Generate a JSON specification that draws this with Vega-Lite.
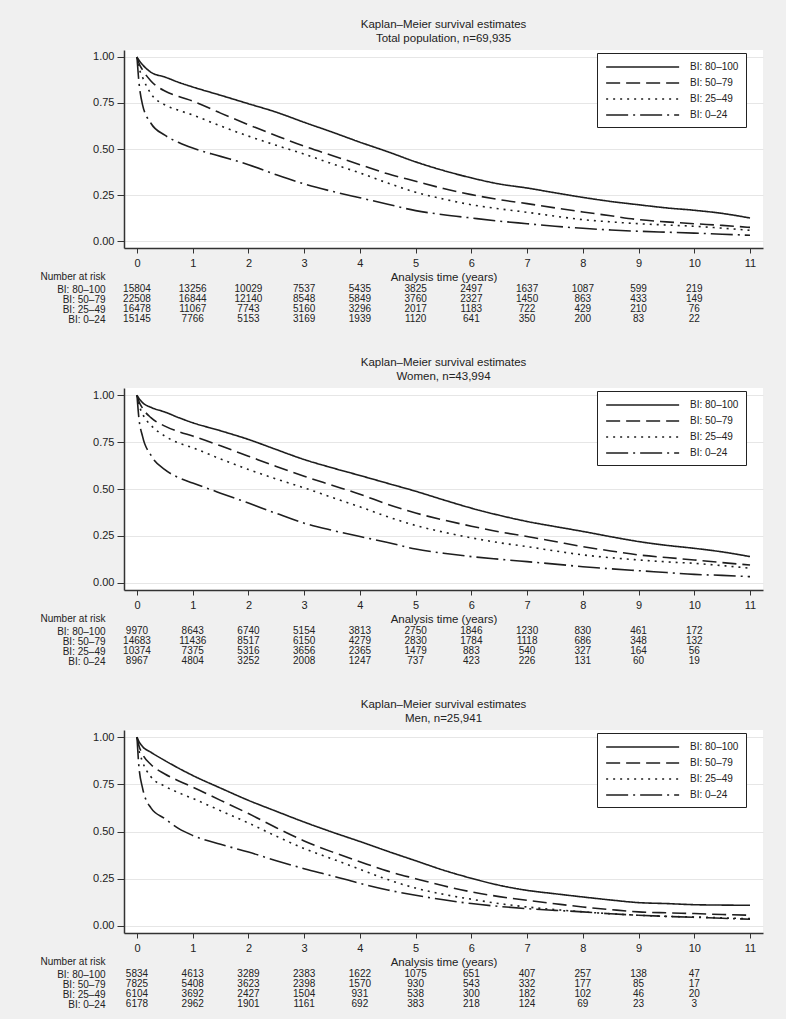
{
  "$schema": "https://vega.github.io/schema/vega-lite/v6.json",
  "autosize": {"type": "pad"},
  "padding": {"left": 40, "top": 18, "right": 23, "bottom": 10},
  "background": "#f0f0f0",
  "bounds": "flush",
  "spacing": 36,
  "datasets": {
    "km": [
      {"panel":"Total","group":"BI: 80–100","time":0,"surv":1},{"panel":"Total","group":"BI: 80–100","time":0.03,"surv":0.985},{"panel":"Total","group":"BI: 80–100","time":0.1,"surv":0.958},{"panel":"Total","group":"BI: 80–100","time":0.25,"surv":0.917},{"panel":"Total","group":"BI: 80–100","time":0.5,"surv":0.891},{"panel":"Total","group":"BI: 80–100","time":0.75,"surv":0.862},{"panel":"Total","group":"BI: 80–100","time":1,"surv":0.837},{"panel":"Total","group":"BI: 80–100","time":1.5,"surv":0.792},{"panel":"Total","group":"BI: 80–100","time":2,"surv":0.746},{"panel":"Total","group":"BI: 80–100","time":2.5,"surv":0.7},{"panel":"Total","group":"BI: 80–100","time":3,"surv":0.645},{"panel":"Total","group":"BI: 80–100","time":3.5,"surv":0.592},{"panel":"Total","group":"BI: 80–100","time":4,"surv":0.537},{"panel":"Total","group":"BI: 80–100","time":4.5,"surv":0.485},{"panel":"Total","group":"BI: 80–100","time":5,"surv":0.43},{"panel":"Total","group":"BI: 80–100","time":5.5,"surv":0.383},{"panel":"Total","group":"BI: 80–100","time":6,"surv":0.343},{"panel":"Total","group":"BI: 80–100","time":6.5,"surv":0.31},{"panel":"Total","group":"BI: 80–100","time":7,"surv":0.288},{"panel":"Total","group":"BI: 80–100","time":7.5,"surv":0.262},{"panel":"Total","group":"BI: 80–100","time":8,"surv":0.237},{"panel":"Total","group":"BI: 80–100","time":8.5,"surv":0.215},{"panel":"Total","group":"BI: 80–100","time":9,"surv":0.197},{"panel":"Total","group":"BI: 80–100","time":9.5,"surv":0.18},{"panel":"Total","group":"BI: 80–100","time":10,"surv":0.167},{"panel":"Total","group":"BI: 80–100","time":10.5,"surv":0.15},{"panel":"Total","group":"BI: 80–100","time":11,"surv":0.125},
      {"panel":"Total","group":"BI: 50–79","time":0,"surv":1},{"panel":"Total","group":"BI: 50–79","time":0.03,"surv":0.97},{"panel":"Total","group":"BI: 50–79","time":0.1,"surv":0.93},{"panel":"Total","group":"BI: 50–79","time":0.25,"surv":0.87},{"panel":"Total","group":"BI: 50–79","time":0.5,"surv":0.815},{"panel":"Total","group":"BI: 50–79","time":0.75,"surv":0.785},{"panel":"Total","group":"BI: 50–79","time":1,"surv":0.76},{"panel":"Total","group":"BI: 50–79","time":1.5,"surv":0.695},{"panel":"Total","group":"BI: 50–79","time":2,"surv":0.632},{"panel":"Total","group":"BI: 50–79","time":2.5,"surv":0.572},{"panel":"Total","group":"BI: 50–79","time":3,"surv":0.515},{"panel":"Total","group":"BI: 50–79","time":3.5,"surv":0.465},{"panel":"Total","group":"BI: 50–79","time":4,"surv":0.415},{"panel":"Total","group":"BI: 50–79","time":4.5,"surv":0.365},{"panel":"Total","group":"BI: 50–79","time":5,"surv":0.325},{"panel":"Total","group":"BI: 50–79","time":5.5,"surv":0.285},{"panel":"Total","group":"BI: 50–79","time":6,"surv":0.252},{"panel":"Total","group":"BI: 50–79","time":6.5,"surv":0.225},{"panel":"Total","group":"BI: 50–79","time":7,"surv":0.203},{"panel":"Total","group":"BI: 50–79","time":7.5,"surv":0.18},{"panel":"Total","group":"BI: 50–79","time":8,"surv":0.158},{"panel":"Total","group":"BI: 50–79","time":8.5,"surv":0.137},{"panel":"Total","group":"BI: 50–79","time":9,"surv":0.116},{"panel":"Total","group":"BI: 50–79","time":9.5,"surv":0.104},{"panel":"Total","group":"BI: 50–79","time":10,"surv":0.094},{"panel":"Total","group":"BI: 50–79","time":10.5,"surv":0.085},{"panel":"Total","group":"BI: 50–79","time":11,"surv":0.074},
      {"panel":"Total","group":"BI: 25–49","time":0,"surv":1},{"panel":"Total","group":"BI: 25–49","time":0.03,"surv":0.95},{"panel":"Total","group":"BI: 25–49","time":0.1,"surv":0.89},{"panel":"Total","group":"BI: 25–49","time":0.25,"surv":0.8},{"panel":"Total","group":"BI: 25–49","time":0.5,"surv":0.74},{"panel":"Total","group":"BI: 25–49","time":0.75,"surv":0.71},{"panel":"Total","group":"BI: 25–49","time":1,"surv":0.685},{"panel":"Total","group":"BI: 25–49","time":1.5,"surv":0.625},{"panel":"Total","group":"BI: 25–49","time":2,"surv":0.57},{"panel":"Total","group":"BI: 25–49","time":2.5,"surv":0.52},{"panel":"Total","group":"BI: 25–49","time":3,"surv":0.472},{"panel":"Total","group":"BI: 25–49","time":3.5,"surv":0.42},{"panel":"Total","group":"BI: 25–49","time":4,"surv":0.37},{"panel":"Total","group":"BI: 25–49","time":4.5,"surv":0.315},{"panel":"Total","group":"BI: 25–49","time":5,"surv":0.265},{"panel":"Total","group":"BI: 25–49","time":5.5,"surv":0.228},{"panel":"Total","group":"BI: 25–49","time":6,"surv":0.197},{"panel":"Total","group":"BI: 25–49","time":6.5,"surv":0.175},{"panel":"Total","group":"BI: 25–49","time":7,"surv":0.156},{"panel":"Total","group":"BI: 25–49","time":7.5,"surv":0.135},{"panel":"Total","group":"BI: 25–49","time":8,"surv":0.116},{"panel":"Total","group":"BI: 25–49","time":8.5,"surv":0.104},{"panel":"Total","group":"BI: 25–49","time":9,"surv":0.094},{"panel":"Total","group":"BI: 25–49","time":9.5,"surv":0.087},{"panel":"Total","group":"BI: 25–49","time":10,"surv":0.08},{"panel":"Total","group":"BI: 25–49","time":10.5,"surv":0.07},{"panel":"Total","group":"BI: 25–49","time":11,"surv":0.058},
      {"panel":"Total","group":"BI: 0–24","time":0,"surv":1},{"panel":"Total","group":"BI: 0–24","time":0.03,"surv":0.88},{"panel":"Total","group":"BI: 0–24","time":0.1,"surv":0.74},{"panel":"Total","group":"BI: 0–24","time":0.25,"surv":0.64},{"panel":"Total","group":"BI: 0–24","time":0.5,"surv":0.575},{"panel":"Total","group":"BI: 0–24","time":0.75,"surv":0.535},{"panel":"Total","group":"BI: 0–24","time":1,"surv":0.505},{"panel":"Total","group":"BI: 0–24","time":1.5,"surv":0.46},{"panel":"Total","group":"BI: 0–24","time":2,"surv":0.415},{"panel":"Total","group":"BI: 0–24","time":2.5,"surv":0.36},{"panel":"Total","group":"BI: 0–24","time":3,"surv":0.31},{"panel":"Total","group":"BI: 0–24","time":3.5,"surv":0.27},{"panel":"Total","group":"BI: 0–24","time":4,"surv":0.235},{"panel":"Total","group":"BI: 0–24","time":4.5,"surv":0.2},{"panel":"Total","group":"BI: 0–24","time":5,"surv":0.165},{"panel":"Total","group":"BI: 0–24","time":5.5,"surv":0.143},{"panel":"Total","group":"BI: 0–24","time":6,"surv":0.125},{"panel":"Total","group":"BI: 0–24","time":6.5,"surv":0.108},{"panel":"Total","group":"BI: 0–24","time":7,"surv":0.094},{"panel":"Total","group":"BI: 0–24","time":7.5,"surv":0.08},{"panel":"Total","group":"BI: 0–24","time":8,"surv":0.069},{"panel":"Total","group":"BI: 0–24","time":8.5,"surv":0.06},{"panel":"Total","group":"BI: 0–24","time":9,"surv":0.053},{"panel":"Total","group":"BI: 0–24","time":9.5,"surv":0.048},{"panel":"Total","group":"BI: 0–24","time":10,"surv":0.043},{"panel":"Total","group":"BI: 0–24","time":10.5,"surv":0.037},{"panel":"Total","group":"BI: 0–24","time":11,"surv":0.031},
      {"panel":"Women","group":"BI: 80–100","time":0,"surv":1},{"panel":"Women","group":"BI: 80–100","time":0.03,"surv":0.985},{"panel":"Women","group":"BI: 80–100","time":0.1,"surv":0.96},{"panel":"Women","group":"BI: 80–100","time":0.25,"surv":0.935},{"panel":"Women","group":"BI: 80–100","time":0.5,"surv":0.91},{"panel":"Women","group":"BI: 80–100","time":0.75,"surv":0.88},{"panel":"Women","group":"BI: 80–100","time":1,"surv":0.853},{"panel":"Women","group":"BI: 80–100","time":1.5,"surv":0.81},{"panel":"Women","group":"BI: 80–100","time":2,"surv":0.764},{"panel":"Women","group":"BI: 80–100","time":2.5,"surv":0.71},{"panel":"Women","group":"BI: 80–100","time":3,"surv":0.657},{"panel":"Women","group":"BI: 80–100","time":3.5,"surv":0.613},{"panel":"Women","group":"BI: 80–100","time":4,"surv":0.572},{"panel":"Women","group":"BI: 80–100","time":4.5,"surv":0.53},{"panel":"Women","group":"BI: 80–100","time":5,"surv":0.488},{"panel":"Women","group":"BI: 80–100","time":5.5,"surv":0.442},{"panel":"Women","group":"BI: 80–100","time":6,"surv":0.398},{"panel":"Women","group":"BI: 80–100","time":6.5,"surv":0.36},{"panel":"Women","group":"BI: 80–100","time":7,"surv":0.327},{"panel":"Women","group":"BI: 80–100","time":7.5,"surv":0.3},{"panel":"Women","group":"BI: 80–100","time":8,"surv":0.274},{"panel":"Women","group":"BI: 80–100","time":8.5,"surv":0.246},{"panel":"Women","group":"BI: 80–100","time":9,"surv":0.22},{"panel":"Women","group":"BI: 80–100","time":9.5,"surv":0.2},{"panel":"Women","group":"BI: 80–100","time":10,"surv":0.184},{"panel":"Women","group":"BI: 80–100","time":10.5,"surv":0.165},{"panel":"Women","group":"BI: 80–100","time":11,"surv":0.14},
      {"panel":"Women","group":"BI: 50–79","time":0,"surv":1},{"panel":"Women","group":"BI: 50–79","time":0.03,"surv":0.97},{"panel":"Women","group":"BI: 50–79","time":0.1,"surv":0.93},{"panel":"Women","group":"BI: 50–79","time":0.25,"surv":0.88},{"panel":"Women","group":"BI: 50–79","time":0.5,"surv":0.835},{"panel":"Women","group":"BI: 50–79","time":0.75,"surv":0.805},{"panel":"Women","group":"BI: 50–79","time":1,"surv":0.782},{"panel":"Women","group":"BI: 50–79","time":1.5,"surv":0.73},{"panel":"Women","group":"BI: 50–79","time":2,"surv":0.675},{"panel":"Women","group":"BI: 50–79","time":2.5,"surv":0.62},{"panel":"Women","group":"BI: 50–79","time":3,"surv":0.568},{"panel":"Women","group":"BI: 50–79","time":3.5,"surv":0.52},{"panel":"Women","group":"BI: 50–79","time":4,"surv":0.472},{"panel":"Women","group":"BI: 50–79","time":4.5,"surv":0.418},{"panel":"Women","group":"BI: 50–79","time":5,"surv":0.372},{"panel":"Women","group":"BI: 50–79","time":5.5,"surv":0.335},{"panel":"Women","group":"BI: 50–79","time":6,"surv":0.302},{"panel":"Women","group":"BI: 50–79","time":6.5,"surv":0.272},{"panel":"Women","group":"BI: 50–79","time":7,"surv":0.247},{"panel":"Women","group":"BI: 50–79","time":7.5,"surv":0.22},{"panel":"Women","group":"BI: 50–79","time":8,"surv":0.193},{"panel":"Women","group":"BI: 50–79","time":8.5,"surv":0.17},{"panel":"Women","group":"BI: 50–79","time":9,"surv":0.149},{"panel":"Women","group":"BI: 50–79","time":9.5,"surv":0.135},{"panel":"Women","group":"BI: 50–79","time":10,"surv":0.122},{"panel":"Women","group":"BI: 50–79","time":10.5,"surv":0.108},{"panel":"Women","group":"BI: 50–79","time":11,"surv":0.095},
      {"panel":"Women","group":"BI: 25–49","time":0,"surv":1},{"panel":"Women","group":"BI: 25–49","time":0.03,"surv":0.955},{"panel":"Women","group":"BI: 25–49","time":0.1,"surv":0.9},{"panel":"Women","group":"BI: 25–49","time":0.25,"surv":0.84},{"panel":"Women","group":"BI: 25–49","time":0.5,"surv":0.782},{"panel":"Women","group":"BI: 25–49","time":0.75,"surv":0.745},{"panel":"Women","group":"BI: 25–49","time":1,"surv":0.72},{"panel":"Women","group":"BI: 25–49","time":1.5,"surv":0.66},{"panel":"Women","group":"BI: 25–49","time":2,"surv":0.604},{"panel":"Women","group":"BI: 25–49","time":2.5,"surv":0.553},{"panel":"Women","group":"BI: 25–49","time":3,"surv":0.506},{"panel":"Women","group":"BI: 25–49","time":3.5,"surv":0.455},{"panel":"Women","group":"BI: 25–49","time":4,"surv":0.405},{"panel":"Women","group":"BI: 25–49","time":4.5,"surv":0.352},{"panel":"Women","group":"BI: 25–49","time":5,"surv":0.306},{"panel":"Women","group":"BI: 25–49","time":5.5,"surv":0.27},{"panel":"Women","group":"BI: 25–49","time":6,"surv":0.24},{"panel":"Women","group":"BI: 25–49","time":6.5,"surv":0.214},{"panel":"Women","group":"BI: 25–49","time":7,"surv":0.193},{"panel":"Women","group":"BI: 25–49","time":7.5,"surv":0.17},{"panel":"Women","group":"BI: 25–49","time":8,"surv":0.149},{"panel":"Women","group":"BI: 25–49","time":8.5,"surv":0.134},{"panel":"Women","group":"BI: 25–49","time":9,"surv":0.122},{"panel":"Women","group":"BI: 25–49","time":9.5,"surv":0.112},{"panel":"Women","group":"BI: 25–49","time":10,"surv":0.104},{"panel":"Women","group":"BI: 25–49","time":10.5,"surv":0.092},{"panel":"Women","group":"BI: 25–49","time":11,"surv":0.078},
      {"panel":"Women","group":"BI: 0–24","time":0,"surv":1},{"panel":"Women","group":"BI: 0–24","time":0.03,"surv":0.89},{"panel":"Women","group":"BI: 0–24","time":0.1,"surv":0.78},{"panel":"Women","group":"BI: 0–24","time":0.25,"surv":0.68},{"panel":"Women","group":"BI: 0–24","time":0.5,"surv":0.603},{"panel":"Women","group":"BI: 0–24","time":0.75,"surv":0.56},{"panel":"Women","group":"BI: 0–24","time":1,"surv":0.532},{"panel":"Women","group":"BI: 0–24","time":1.5,"surv":0.478},{"panel":"Women","group":"BI: 0–24","time":2,"surv":0.425},{"panel":"Women","group":"BI: 0–24","time":2.5,"surv":0.37},{"panel":"Women","group":"BI: 0–24","time":3,"surv":0.318},{"panel":"Women","group":"BI: 0–24","time":3.5,"surv":0.28},{"panel":"Women","group":"BI: 0–24","time":4,"surv":0.247},{"panel":"Women","group":"BI: 0–24","time":4.5,"surv":0.215},{"panel":"Women","group":"BI: 0–24","time":5,"surv":0.18},{"panel":"Women","group":"BI: 0–24","time":5.5,"surv":0.158},{"panel":"Women","group":"BI: 0–24","time":6,"surv":0.14},{"panel":"Women","group":"BI: 0–24","time":6.5,"surv":0.126},{"panel":"Women","group":"BI: 0–24","time":7,"surv":0.113},{"panel":"Women","group":"BI: 0–24","time":7.5,"surv":0.1},{"panel":"Women","group":"BI: 0–24","time":8,"surv":0.086},{"panel":"Women","group":"BI: 0–24","time":8.5,"surv":0.075},{"panel":"Women","group":"BI: 0–24","time":9,"surv":0.065},{"panel":"Women","group":"BI: 0–24","time":9.5,"surv":0.055},{"panel":"Women","group":"BI: 0–24","time":10,"surv":0.045},{"panel":"Women","group":"BI: 0–24","time":10.5,"surv":0.04},{"panel":"Women","group":"BI: 0–24","time":11,"surv":0.033},
      {"panel":"Men","group":"BI: 80–100","time":0,"surv":1},{"panel":"Men","group":"BI: 80–100","time":0.03,"surv":0.98},{"panel":"Men","group":"BI: 80–100","time":0.1,"surv":0.95},{"panel":"Men","group":"BI: 80–100","time":0.25,"surv":0.92},{"panel":"Men","group":"BI: 80–100","time":0.5,"surv":0.876},{"panel":"Men","group":"BI: 80–100","time":0.75,"surv":0.835},{"panel":"Men","group":"BI: 80–100","time":1,"surv":0.797},{"panel":"Men","group":"BI: 80–100","time":1.5,"surv":0.73},{"panel":"Men","group":"BI: 80–100","time":2,"surv":0.665},{"panel":"Men","group":"BI: 80–100","time":2.5,"surv":0.607},{"panel":"Men","group":"BI: 80–100","time":3,"surv":0.55},{"panel":"Men","group":"BI: 80–100","time":3.5,"surv":0.497},{"panel":"Men","group":"BI: 80–100","time":4,"surv":0.447},{"panel":"Men","group":"BI: 80–100","time":4.5,"surv":0.395},{"panel":"Men","group":"BI: 80–100","time":5,"surv":0.345},{"panel":"Men","group":"BI: 80–100","time":5.5,"surv":0.295},{"panel":"Men","group":"BI: 80–100","time":6,"surv":0.252},{"panel":"Men","group":"BI: 80–100","time":6.5,"surv":0.215},{"panel":"Men","group":"BI: 80–100","time":7,"surv":0.188},{"panel":"Men","group":"BI: 80–100","time":7.5,"surv":0.17},{"panel":"Men","group":"BI: 80–100","time":8,"surv":0.153},{"panel":"Men","group":"BI: 80–100","time":8.5,"surv":0.137},{"panel":"Men","group":"BI: 80–100","time":9,"surv":0.123},{"panel":"Men","group":"BI: 80–100","time":9.5,"surv":0.118},{"panel":"Men","group":"BI: 80–100","time":10,"surv":0.112},{"panel":"Men","group":"BI: 80–100","time":10.5,"surv":0.11},{"panel":"Men","group":"BI: 80–100","time":11,"surv":0.109},
      {"panel":"Men","group":"BI: 50–79","time":0,"surv":1},{"panel":"Men","group":"BI: 50–79","time":0.03,"surv":0.96},{"panel":"Men","group":"BI: 50–79","time":0.1,"surv":0.91},{"panel":"Men","group":"BI: 50–79","time":0.25,"surv":0.855},{"panel":"Men","group":"BI: 50–79","time":0.5,"surv":0.805},{"panel":"Men","group":"BI: 50–79","time":0.75,"surv":0.768},{"panel":"Men","group":"BI: 50–79","time":1,"surv":0.735},{"panel":"Men","group":"BI: 50–79","time":1.5,"surv":0.665},{"panel":"Men","group":"BI: 50–79","time":2,"surv":0.595},{"panel":"Men","group":"BI: 50–79","time":2.5,"surv":0.52},{"panel":"Men","group":"BI: 50–79","time":3,"surv":0.45},{"panel":"Men","group":"BI: 50–79","time":3.5,"surv":0.392},{"panel":"Men","group":"BI: 50–79","time":4,"surv":0.34},{"panel":"Men","group":"BI: 50–79","time":4.5,"surv":0.29},{"panel":"Men","group":"BI: 50–79","time":5,"surv":0.25},{"panel":"Men","group":"BI: 50–79","time":5.5,"surv":0.212},{"panel":"Men","group":"BI: 50–79","time":6,"surv":0.18},{"panel":"Men","group":"BI: 50–79","time":6.5,"surv":0.155},{"panel":"Men","group":"BI: 50–79","time":7,"surv":0.135},{"panel":"Men","group":"BI: 50–79","time":7.5,"surv":0.117},{"panel":"Men","group":"BI: 50–79","time":8,"surv":0.1},{"panel":"Men","group":"BI: 50–79","time":8.5,"surv":0.086},{"panel":"Men","group":"BI: 50–79","time":9,"surv":0.074},{"panel":"Men","group":"BI: 50–79","time":9.5,"surv":0.069},{"panel":"Men","group":"BI: 50–79","time":10,"surv":0.065},{"panel":"Men","group":"BI: 50–79","time":10.5,"surv":0.06},{"panel":"Men","group":"BI: 50–79","time":11,"surv":0.056},
      {"panel":"Men","group":"BI: 25–49","time":0,"surv":1},{"panel":"Men","group":"BI: 25–49","time":0.03,"surv":0.94},{"panel":"Men","group":"BI: 25–49","time":0.1,"surv":0.87},{"panel":"Men","group":"BI: 25–49","time":0.25,"surv":0.79},{"panel":"Men","group":"BI: 25–49","time":0.5,"surv":0.74},{"panel":"Men","group":"BI: 25–49","time":0.75,"surv":0.705},{"panel":"Men","group":"BI: 25–49","time":1,"surv":0.675},{"panel":"Men","group":"BI: 25–49","time":1.5,"surv":0.61},{"panel":"Men","group":"BI: 25–49","time":2,"surv":0.545},{"panel":"Men","group":"BI: 25–49","time":2.5,"surv":0.475},{"panel":"Men","group":"BI: 25–49","time":3,"surv":0.41},{"panel":"Men","group":"BI: 25–49","time":3.5,"surv":0.355},{"panel":"Men","group":"BI: 25–49","time":4,"surv":0.3},{"panel":"Men","group":"BI: 25–49","time":4.5,"surv":0.245},{"panel":"Men","group":"BI: 25–49","time":5,"surv":0.2},{"panel":"Men","group":"BI: 25–49","time":5.5,"surv":0.167},{"panel":"Men","group":"BI: 25–49","time":6,"surv":0.141},{"panel":"Men","group":"BI: 25–49","time":6.5,"surv":0.118},{"panel":"Men","group":"BI: 25–49","time":7,"surv":0.1},{"panel":"Men","group":"BI: 25–49","time":7.5,"surv":0.086},{"panel":"Men","group":"BI: 25–49","time":8,"surv":0.074},{"panel":"Men","group":"BI: 25–49","time":8.5,"surv":0.064},{"panel":"Men","group":"BI: 25–49","time":9,"surv":0.056},{"panel":"Men","group":"BI: 25–49","time":9.5,"surv":0.05},{"panel":"Men","group":"BI: 25–49","time":10,"surv":0.047},{"panel":"Men","group":"BI: 25–49","time":10.5,"surv":0.042},{"panel":"Men","group":"BI: 25–49","time":11,"surv":0.038},
      {"panel":"Men","group":"BI: 0–24","time":0,"surv":1},{"panel":"Men","group":"BI: 0–24","time":0.03,"surv":0.86},{"panel":"Men","group":"BI: 0–24","time":0.1,"surv":0.73},{"panel":"Men","group":"BI: 0–24","time":0.25,"surv":0.625},{"panel":"Men","group":"BI: 0–24","time":0.5,"surv":0.568},{"panel":"Men","group":"BI: 0–24","time":0.75,"surv":0.515},{"panel":"Men","group":"BI: 0–24","time":1,"surv":0.479},{"panel":"Men","group":"BI: 0–24","time":1.5,"surv":0.432},{"panel":"Men","group":"BI: 0–24","time":2,"surv":0.391},{"panel":"Men","group":"BI: 0–24","time":2.5,"surv":0.345},{"panel":"Men","group":"BI: 0–24","time":3,"surv":0.303},{"panel":"Men","group":"BI: 0–24","time":3.5,"surv":0.265},{"panel":"Men","group":"BI: 0–24","time":4,"surv":0.225},{"panel":"Men","group":"BI: 0–24","time":4.5,"surv":0.19},{"panel":"Men","group":"BI: 0–24","time":5,"surv":0.162},{"panel":"Men","group":"BI: 0–24","time":5.5,"surv":0.138},{"panel":"Men","group":"BI: 0–24","time":6,"surv":0.118},{"panel":"Men","group":"BI: 0–24","time":6.5,"surv":0.103},{"panel":"Men","group":"BI: 0–24","time":7,"surv":0.091},{"panel":"Men","group":"BI: 0–24","time":7.5,"surv":0.082},{"panel":"Men","group":"BI: 0–24","time":8,"surv":0.074},{"panel":"Men","group":"BI: 0–24","time":8.5,"surv":0.064},{"panel":"Men","group":"BI: 0–24","time":9,"surv":0.056},{"panel":"Men","group":"BI: 0–24","time":9.5,"surv":0.05},{"panel":"Men","group":"BI: 0–24","time":10,"surv":0.045},{"panel":"Men","group":"BI: 0–24","time":10.5,"surv":0.04},{"panel":"Men","group":"BI: 0–24","time":11,"surv":0.035}
    ],
    "risk": [
      {"panel":"Total","group":"BI: 80–100","time":0,"n":15804},{"panel":"Total","group":"BI: 80–100","time":1,"n":13256},{"panel":"Total","group":"BI: 80–100","time":2,"n":10029},{"panel":"Total","group":"BI: 80–100","time":3,"n":7537},{"panel":"Total","group":"BI: 80–100","time":4,"n":5435},{"panel":"Total","group":"BI: 80–100","time":5,"n":3825},{"panel":"Total","group":"BI: 80–100","time":6,"n":2497},{"panel":"Total","group":"BI: 80–100","time":7,"n":1637},{"panel":"Total","group":"BI: 80–100","time":8,"n":1087},{"panel":"Total","group":"BI: 80–100","time":9,"n":599},{"panel":"Total","group":"BI: 80–100","time":10,"n":219},
      {"panel":"Total","group":"BI: 50–79","time":0,"n":22508},{"panel":"Total","group":"BI: 50–79","time":1,"n":16844},{"panel":"Total","group":"BI: 50–79","time":2,"n":12140},{"panel":"Total","group":"BI: 50–79","time":3,"n":8548},{"panel":"Total","group":"BI: 50–79","time":4,"n":5849},{"panel":"Total","group":"BI: 50–79","time":5,"n":3760},{"panel":"Total","group":"BI: 50–79","time":6,"n":2327},{"panel":"Total","group":"BI: 50–79","time":7,"n":1450},{"panel":"Total","group":"BI: 50–79","time":8,"n":863},{"panel":"Total","group":"BI: 50–79","time":9,"n":433},{"panel":"Total","group":"BI: 50–79","time":10,"n":149},
      {"panel":"Total","group":"BI: 25–49","time":0,"n":16478},{"panel":"Total","group":"BI: 25–49","time":1,"n":11067},{"panel":"Total","group":"BI: 25–49","time":2,"n":7743},{"panel":"Total","group":"BI: 25–49","time":3,"n":5160},{"panel":"Total","group":"BI: 25–49","time":4,"n":3296},{"panel":"Total","group":"BI: 25–49","time":5,"n":2017},{"panel":"Total","group":"BI: 25–49","time":6,"n":1183},{"panel":"Total","group":"BI: 25–49","time":7,"n":722},{"panel":"Total","group":"BI: 25–49","time":8,"n":429},{"panel":"Total","group":"BI: 25–49","time":9,"n":210},{"panel":"Total","group":"BI: 25–49","time":10,"n":76},
      {"panel":"Total","group":"BI: 0–24","time":0,"n":15145},{"panel":"Total","group":"BI: 0–24","time":1,"n":7766},{"panel":"Total","group":"BI: 0–24","time":2,"n":5153},{"panel":"Total","group":"BI: 0–24","time":3,"n":3169},{"panel":"Total","group":"BI: 0–24","time":4,"n":1939},{"panel":"Total","group":"BI: 0–24","time":5,"n":1120},{"panel":"Total","group":"BI: 0–24","time":6,"n":641},{"panel":"Total","group":"BI: 0–24","time":7,"n":350},{"panel":"Total","group":"BI: 0–24","time":8,"n":200},{"panel":"Total","group":"BI: 0–24","time":9,"n":83},{"panel":"Total","group":"BI: 0–24","time":10,"n":22},
      {"panel":"Women","group":"BI: 80–100","time":0,"n":9970},{"panel":"Women","group":"BI: 80–100","time":1,"n":8643},{"panel":"Women","group":"BI: 80–100","time":2,"n":6740},{"panel":"Women","group":"BI: 80–100","time":3,"n":5154},{"panel":"Women","group":"BI: 80–100","time":4,"n":3813},{"panel":"Women","group":"BI: 80–100","time":5,"n":2750},{"panel":"Women","group":"BI: 80–100","time":6,"n":1846},{"panel":"Women","group":"BI: 80–100","time":7,"n":1230},{"panel":"Women","group":"BI: 80–100","time":8,"n":830},{"panel":"Women","group":"BI: 80–100","time":9,"n":461},{"panel":"Women","group":"BI: 80–100","time":10,"n":172},
      {"panel":"Women","group":"BI: 50–79","time":0,"n":14683},{"panel":"Women","group":"BI: 50–79","time":1,"n":11436},{"panel":"Women","group":"BI: 50–79","time":2,"n":8517},{"panel":"Women","group":"BI: 50–79","time":3,"n":6150},{"panel":"Women","group":"BI: 50–79","time":4,"n":4279},{"panel":"Women","group":"BI: 50–79","time":5,"n":2830},{"panel":"Women","group":"BI: 50–79","time":6,"n":1784},{"panel":"Women","group":"BI: 50–79","time":7,"n":1118},{"panel":"Women","group":"BI: 50–79","time":8,"n":686},{"panel":"Women","group":"BI: 50–79","time":9,"n":348},{"panel":"Women","group":"BI: 50–79","time":10,"n":132},
      {"panel":"Women","group":"BI: 25–49","time":0,"n":10374},{"panel":"Women","group":"BI: 25–49","time":1,"n":7375},{"panel":"Women","group":"BI: 25–49","time":2,"n":5316},{"panel":"Women","group":"BI: 25–49","time":3,"n":3656},{"panel":"Women","group":"BI: 25–49","time":4,"n":2365},{"panel":"Women","group":"BI: 25–49","time":5,"n":1479},{"panel":"Women","group":"BI: 25–49","time":6,"n":883},{"panel":"Women","group":"BI: 25–49","time":7,"n":540},{"panel":"Women","group":"BI: 25–49","time":8,"n":327},{"panel":"Women","group":"BI: 25–49","time":9,"n":164},{"panel":"Women","group":"BI: 25–49","time":10,"n":56},
      {"panel":"Women","group":"BI: 0–24","time":0,"n":8967},{"panel":"Women","group":"BI: 0–24","time":1,"n":4804},{"panel":"Women","group":"BI: 0–24","time":2,"n":3252},{"panel":"Women","group":"BI: 0–24","time":3,"n":2008},{"panel":"Women","group":"BI: 0–24","time":4,"n":1247},{"panel":"Women","group":"BI: 0–24","time":5,"n":737},{"panel":"Women","group":"BI: 0–24","time":6,"n":423},{"panel":"Women","group":"BI: 0–24","time":7,"n":226},{"panel":"Women","group":"BI: 0–24","time":8,"n":131},{"panel":"Women","group":"BI: 0–24","time":9,"n":60},{"panel":"Women","group":"BI: 0–24","time":10,"n":19},
      {"panel":"Men","group":"BI: 80–100","time":0,"n":5834},{"panel":"Men","group":"BI: 80–100","time":1,"n":4613},{"panel":"Men","group":"BI: 80–100","time":2,"n":3289},{"panel":"Men","group":"BI: 80–100","time":3,"n":2383},{"panel":"Men","group":"BI: 80–100","time":4,"n":1622},{"panel":"Men","group":"BI: 80–100","time":5,"n":1075},{"panel":"Men","group":"BI: 80–100","time":6,"n":651},{"panel":"Men","group":"BI: 80–100","time":7,"n":407},{"panel":"Men","group":"BI: 80–100","time":8,"n":257},{"panel":"Men","group":"BI: 80–100","time":9,"n":138},{"panel":"Men","group":"BI: 80–100","time":10,"n":47},
      {"panel":"Men","group":"BI: 50–79","time":0,"n":7825},{"panel":"Men","group":"BI: 50–79","time":1,"n":5408},{"panel":"Men","group":"BI: 50–79","time":2,"n":3623},{"panel":"Men","group":"BI: 50–79","time":3,"n":2398},{"panel":"Men","group":"BI: 50–79","time":4,"n":1570},{"panel":"Men","group":"BI: 50–79","time":5,"n":930},{"panel":"Men","group":"BI: 50–79","time":6,"n":543},{"panel":"Men","group":"BI: 50–79","time":7,"n":332},{"panel":"Men","group":"BI: 50–79","time":8,"n":177},{"panel":"Men","group":"BI: 50–79","time":9,"n":85},{"panel":"Men","group":"BI: 50–79","time":10,"n":17},
      {"panel":"Men","group":"BI: 25–49","time":0,"n":6104},{"panel":"Men","group":"BI: 25–49","time":1,"n":3692},{"panel":"Men","group":"BI: 25–49","time":2,"n":2427},{"panel":"Men","group":"BI: 25–49","time":3,"n":1504},{"panel":"Men","group":"BI: 25–49","time":4,"n":931},{"panel":"Men","group":"BI: 25–49","time":5,"n":538},{"panel":"Men","group":"BI: 25–49","time":6,"n":300},{"panel":"Men","group":"BI: 25–49","time":7,"n":182},{"panel":"Men","group":"BI: 25–49","time":8,"n":102},{"panel":"Men","group":"BI: 25–49","time":9,"n":46},{"panel":"Men","group":"BI: 25–49","time":10,"n":20},
      {"panel":"Men","group":"BI: 0–24","time":0,"n":6178},{"panel":"Men","group":"BI: 0–24","time":1,"n":2962},{"panel":"Men","group":"BI: 0–24","time":2,"n":1901},{"panel":"Men","group":"BI: 0–24","time":3,"n":1161},{"panel":"Men","group":"BI: 0–24","time":4,"n":692},{"panel":"Men","group":"BI: 0–24","time":5,"n":383},{"panel":"Men","group":"BI: 0–24","time":6,"n":218},{"panel":"Men","group":"BI: 0–24","time":7,"n":124},{"panel":"Men","group":"BI: 0–24","time":8,"n":69},{"panel":"Men","group":"BI: 0–24","time":9,"n":23},{"panel":"Men","group":"BI: 0–24","time":10,"n":3}
    ]
  },
  "vconcat": [
    {
      "width": 639, "height": 198,
      "title": {"text": ["Kaplan–Meier survival estimates", "Total population, n=69,935"], "anchor": "middle", "frame": "group", "offset": 6},
      "view": {"fill": "white", "stroke": null},
      "data": {"name": "km"},
      "transform": [{"filter": "datum.panel === 'Total'"}],
      "mark": {"type": "line", "color": "#1e1e1e", "strokeWidth": 1.6, "interpolate": "monotone"},
      "encoding": {
        "x": {"field": "time", "type": "quantitative", "scale": {"domain": [-0.233, 11.233], "nice": false, "zero": false}, "axis": {"title": "Analysis time (years)", "values": [0,1,2,3,4,5,6,7,8,9,10,11]}},
        "y": {"field": "surv", "type": "quantitative", "scale": {"domain": [-0.038, 1.038], "nice": false, "zero": false}, "axis": {"values": [0, 0.25, 0.5, 0.75, 1], "format": ".2f", "title": null, "grid": true}},
        "strokeDash": {"field": "group", "type": "nominal", "scale": {"domain": ["BI: 80–100", "BI: 50–79", "BI: 25–49", "BI: 0–24"], "range": [[1, 0], [14, 6], [2, 5], [22, 5, 2, 5]]}, "legend": {"title": null, "orient": "none", "legendX": 473, "legendY": 3}}
      }
    },
    {
      "width": 639, "height": 68,
      "data": {"name": "risk"},
      "transform": [{"filter": "datum.panel === 'Total'"}],
      "mark": {"type": "text", "fontSize": 10, "color": "#222"},
      "encoding": {
        "x": {"field": "time", "type": "quantitative", "scale": {"domain": [-0.233, 11.233], "nice": false, "zero": false}, "axis": null},
        "y": {"field": "group", "type": "nominal", "sort": ["BI: 80–100", "BI: 50–79", "BI: 25–49", "BI: 0–24"], "scale": {"range": [5, 35], "padding": 0}, "axis": {"title": "Number at risk"}},
        "text": {"field": "n", "type": "quantitative", "format": "d"}
      }
    },
    {
      "width": 639, "height": 202,
      "title": {"text": ["Kaplan–Meier survival estimates", "Women, n=43,994"], "anchor": "middle", "frame": "group", "offset": 6},
      "view": {"fill": "white", "stroke": null},
      "data": {"name": "km"},
      "transform": [{"filter": "datum.panel === 'Women'"}],
      "mark": {"type": "line", "color": "#1e1e1e", "strokeWidth": 1.6, "interpolate": "monotone"},
      "encoding": {
        "x": {"field": "time", "type": "quantitative", "scale": {"domain": [-0.233, 11.233], "nice": false, "zero": false}, "axis": {"title": "Analysis time (years)", "values": [0,1,2,3,4,5,6,7,8,9,10,11]}},
        "y": {"field": "surv", "type": "quantitative", "scale": {"domain": [-0.038, 1.038], "nice": false, "zero": false}, "axis": {"values": [0, 0.25, 0.5, 0.75, 1], "format": ".2f", "title": null, "grid": true}},
        "strokeDash": {"field": "group", "type": "nominal", "scale": {"domain": ["BI: 80–100", "BI: 50–79", "BI: 25–49", "BI: 0–24"], "range": [[1, 0], [14, 6], [2, 5], [22, 5, 2, 5]]}, "legend": {"title": null, "orient": "none", "legendX": 473, "legendY": 3}}
      }
    },
    {
      "width": 639, "height": 68,
      "data": {"name": "risk"},
      "transform": [{"filter": "datum.panel === 'Women'"}],
      "mark": {"type": "text", "fontSize": 10, "color": "#222"},
      "encoding": {
        "x": {"field": "time", "type": "quantitative", "scale": {"domain": [-0.233, 11.233], "nice": false, "zero": false}, "axis": null},
        "y": {"field": "group", "type": "nominal", "sort": ["BI: 80–100", "BI: 50–79", "BI: 25–49", "BI: 0–24"], "scale": {"range": [5, 35], "padding": 0}, "axis": {"title": "Number at risk"}},
        "text": {"field": "n", "type": "quantitative", "format": "d"}
      }
    },
    {
      "width": 639, "height": 203,
      "title": {"text": ["Kaplan–Meier survival estimates", "Men, n=25,941"], "anchor": "middle", "frame": "group", "offset": 6},
      "view": {"fill": "white", "stroke": null},
      "data": {"name": "km"},
      "transform": [{"filter": "datum.panel === 'Men'"}],
      "mark": {"type": "line", "color": "#1e1e1e", "strokeWidth": 1.6, "interpolate": "monotone"},
      "encoding": {
        "x": {"field": "time", "type": "quantitative", "scale": {"domain": [-0.233, 11.233], "nice": false, "zero": false}, "axis": {"title": "Analysis time (years)", "values": [0,1,2,3,4,5,6,7,8,9,10,11]}},
        "y": {"field": "surv", "type": "quantitative", "scale": {"domain": [-0.038, 1.038], "nice": false, "zero": false}, "axis": {"values": [0, 0.25, 0.5, 0.75, 1], "format": ".2f", "title": null, "grid": true}},
        "strokeDash": {"field": "group", "type": "nominal", "scale": {"domain": ["BI: 80–100", "BI: 50–79", "BI: 25–49", "BI: 0–24"], "range": [[1, 0], [14, 6], [2, 5], [22, 5, 2, 5]]}, "legend": {"title": null, "orient": "none", "legendX": 473, "legendY": 3}}
      }
    },
    {
      "width": 639, "height": 40,
      "data": {"name": "risk"},
      "transform": [{"filter": "datum.panel === 'Men'"}],
      "mark": {"type": "text", "fontSize": 10, "color": "#222"},
      "encoding": {
        "x": {"field": "time", "type": "quantitative", "scale": {"domain": [-0.233, 11.233], "nice": false, "zero": false}, "axis": null},
        "y": {"field": "group", "type": "nominal", "sort": ["BI: 80–100", "BI: 50–79", "BI: 25–49", "BI: 0–24"], "scale": {"range": [5, 35], "padding": 0}, "axis": {"title": "Number at risk"}},
        "text": {"field": "n", "type": "quantitative", "format": "d"}
      }
    }
  ],
  "resolve": {"scale": {"x": "independent", "y": "independent", "strokeDash": "independent"}, "legend": {"strokeDash": "independent"}},
  "config": {
    "font": "Liberation Sans",
    "view": {"stroke": null},
    "title": {"font": "Liberation Sans", "fontSize": 11.5, "fontWeight": "normal", "color": "#222", "lineHeight": 14},
    "text": {"font": "Liberation Sans"},
    "axisX": {"labelFontSize": 11, "titleFontSize": 11.5, "titleFontWeight": "normal", "tickSize": 5, "labelPadding": 4, "titlePadding": 3, "grid": false, "domainColor": "#333", "domainWidth": 1.5, "tickColor": "#333", "labelColor": "#222", "titleColor": "#222", "labelFlush": false, "labelOverlap": false, "labelFont": "Liberation Sans", "titleFont": "Liberation Sans"},
    "axisY": {"labelFontSize": 11, "tickSize": 7, "labelPadding": 3, "gridColor": "#e6e6e6", "gridWidth": 1, "domainColor": "#333", "domainWidth": 1.5, "tickColor": "#333", "labelColor": "#222", "labelFont": "Liberation Sans", "titleFont": "Liberation Sans"},
    "axisPoint": {"domain": false, "ticks": false, "tickSize": 0, "grid": false, "labelPadding": 19, "labelFontSize": 10, "labelColor": "#222", "titleAngle": 0, "titleAlign": "left", "titleBaseline": "middle", "titleX": -84, "titleY": -8, "titleFontSize": 10, "titleFontWeight": "normal", "titleColor": "#222"},
    "legend": {"symbolType": "M-0.8,0H11.2", "symbolSize": 148, "symbolStrokeWidth": 1.5, "symbolStrokeColor": "#1e1e1e", "labelFontSize": 10, "labelOffset": 72, "labelColor": "#222", "labelFont": "Liberation Sans", "strokeColor": "#222", "fillColor": "white", "padding": 7, "rowPadding": 4}
  }
}
